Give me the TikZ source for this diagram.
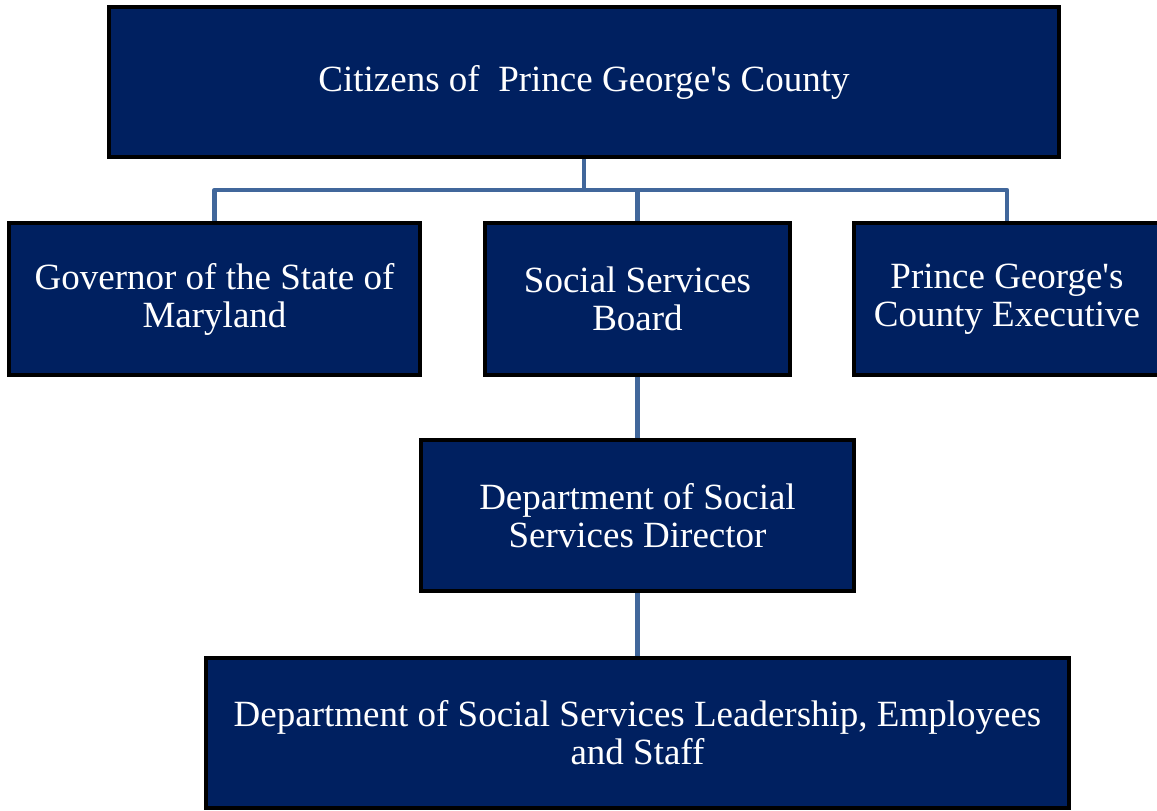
\documentclass[tikz,border=0pt]{standalone}
\usepackage{fontspec}
\setmainfont{Liberation Serif}
\definecolor{boxblue}{HTML}{002060}
\definecolor{linkblue}{HTML}{41679B}
\newcommand{\apos}{\textquotesingle}
\begin{document}
\begin{tikzpicture}[x=1pt,y=-1pt,
  orgbox/.style={draw=black,line width=4pt,fill=boxblue,text=white,align=center,
    inner sep=0pt,font=\fontsize{37}{38}\selectfont},
  link/.style={draw=linkblue,line width=4.5pt}]
\useasboundingbox (0,0) rectangle (1157,811);
\node[orgbox,minimum width=950pt,minimum height=150pt] (top) at (584,82) {Citizens of\ \ Prince George\apos s County};
\node[orgbox,minimum width=411pt,minimum height=152pt] (gov) at (214.5,299) {Governor of the State of\\Maryland};
\node[orgbox,minimum width=305pt,minimum height=152pt] (ssb) at (637.5,299) {Social Services\\Board};
\node[orgbox,minimum width=306pt,minimum height=152pt] (pgc) at (1007,299) {Prince George\apos s\\County Executive};
\node[orgbox,minimum width=433pt,minimum height=151pt] (dir) at (637.5,515.5) {Department of Social\\Services Director};
\node[orgbox,minimum width=863pt,minimum height=150pt] (staff) at (637.5,733) {Department of Social Services Leadership, Employees\\and Staff};
\coordinate (bus) at (584,190);
\draw[link] (top.south) -- (bus);
\draw[link,line join=round] (gov.north) |- (bus) -| (pgc.north);
\draw[link] (ssb.north) -- (ssb.north |- bus);
\draw[link] (ssb.south) -- (dir.north);
\draw[link] (dir.south) -- (staff.north);
\end{tikzpicture}
\end{document}
